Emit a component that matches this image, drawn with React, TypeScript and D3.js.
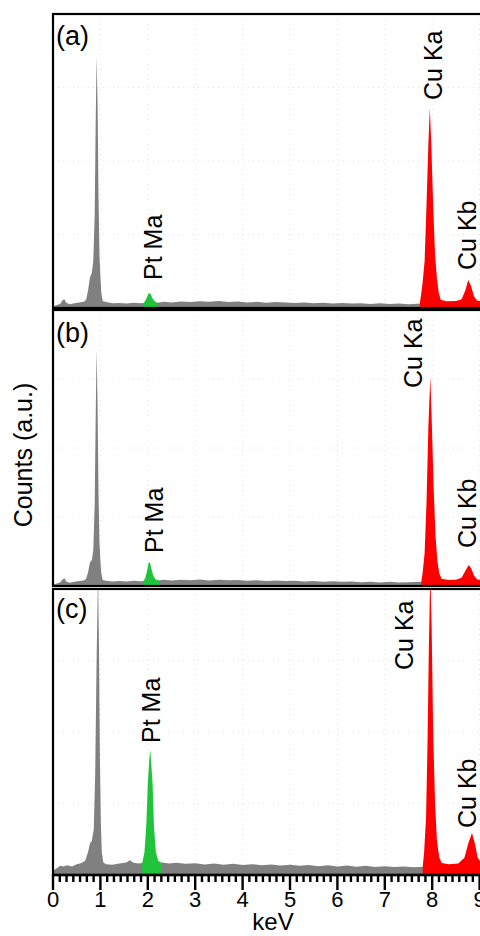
import * as d3 from "d3";

const W = 480;
const H = 936;
const left = 53;
const kevStep = 47.4;

// stacked panels (a), (b), (c)
const panelBoxes = [
  { top: 14, bottom: 308 },
  { top: 310, bottom: 586 },
  { top: 589, bottom: 875 },
];

const panelNames = ["(a)", "(b)", "(c)"];
const tickValues = [0, 1, 2, 3, 4, 5, 6, 7, 8, 9];
const tickLabels = ["0", "1", "2", "3", "4", "5", "6", "7", "8", "9"];

type Pt = [number, number];

// [keV, counts in % of panel height]
const grayA: Pt[] = [
  [0.0, 0.6], [0.08, 1.0], [0.15, 1.4], [0.2, 2.6], [0.24, 3.0], [0.28, 1.8], [0.35, 1.3],
  [0.45, 1.6], [0.55, 1.9], [0.65, 2.1], [0.7, 2.8], [0.74, 6], [0.78, 10.5], [0.82, 12],
  [0.85, 16], [0.88, 32], [0.9, 62], [0.92, 85.7], [0.94, 70], [0.96, 38], [0.98, 18],
  [1.0, 11], [1.02, 5], [1.05, 2.4], [1.12, 2.0], [1.25, 1.6], [1.4, 1.7], [1.55, 1.5],
  [1.7, 1.8], [1.85, 1.6], [2.0, 1.8], [2.2, 1.8], [2.35, 2.1], [2.5, 1.9], [2.7, 2.2],
  [2.9, 2.0], [3.1, 2.3], [3.3, 2.1], [3.5, 2.4], [3.7, 2.0], [3.9, 2.2], [4.1, 1.9],
  [4.3, 2.1], [4.5, 1.8], [4.7, 2.0], [4.9, 1.9], [5.1, 1.7], [5.3, 1.9], [5.5, 1.6],
  [5.7, 1.8], [5.9, 1.5], [6.1, 1.7], [6.3, 1.5], [6.5, 1.6], [6.7, 1.4], [6.9, 1.6],
  [7.1, 1.4], [7.3, 1.5], [7.5, 1.3], [7.76, 1.5],
];
const ptA: Pt[] = [
  [1.92, 1.8], [1.97, 3.2], [2.02, 5.1], [2.06, 4.8], [2.1, 3.2], [2.15, 2.2], [2.2, 1.8],
];
const cuA: Pt[] = [
  [7.74, 1.8], [7.77, 5], [7.8, 9], [7.84, 16], [7.88, 35], [7.92, 56], [7.95, 68],
  [7.98, 56], [8.02, 35], [8.06, 18], [8.1, 10], [8.14, 5], [8.18, 2.8], [8.3, 2.3],
  [8.5, 2.4], [8.62, 3], [8.7, 6], [8.76, 9.5], [8.82, 7.5], [8.88, 4], [8.95, 2.5],
  [9.1, 2.2], [9.4, 2.0],
];

const grayB: Pt[] = [
  [0.0, 0.5], [0.08, 0.9], [0.15, 1.3], [0.2, 2.4], [0.24, 2.8], [0.28, 1.6], [0.35, 1.2],
  [0.45, 1.5], [0.55, 1.8], [0.65, 2.0], [0.7, 2.6], [0.74, 5], [0.78, 8.5], [0.82, 9.4],
  [0.85, 13], [0.88, 30], [0.9, 60], [0.92, 86], [0.94, 66], [0.96, 34], [0.98, 16],
  [1.0, 9], [1.02, 4.5], [1.05, 2.2], [1.12, 1.9], [1.25, 1.6], [1.4, 1.8], [1.55, 1.6],
  [1.7, 1.9], [1.85, 1.7], [2.0, 1.8], [2.2, 2.0], [2.35, 2.3], [2.5, 2.0], [2.7, 2.3],
  [2.9, 2.1], [3.1, 2.4], [3.3, 2.0], [3.5, 2.3], [3.7, 2.1], [3.9, 2.2], [4.1, 1.9],
  [4.3, 2.1], [4.5, 1.8], [4.7, 2.0], [4.9, 1.8], [5.1, 1.9], [5.3, 1.6], [5.5, 1.8],
  [5.7, 1.5], [5.9, 1.7], [6.1, 1.5], [6.3, 1.6], [6.5, 1.4], [6.7, 1.5], [6.9, 1.3],
  [7.1, 1.5], [7.3, 1.3], [7.5, 1.4], [7.78, 1.5],
];
const ptB: Pt[] = [
  [1.9, 1.6], [1.95, 3], [1.99, 6], [2.02, 8.7], [2.05, 8.2], [2.08, 6], [2.12, 3.5],
  [2.17, 2.4], [2.24, 1.9],
];
const cuB: Pt[] = [
  [7.77, 1.6], [7.8, 5], [7.84, 12], [7.88, 30], [7.92, 58], [7.96, 75.7], [7.99, 60],
  [8.03, 36], [8.07, 18], [8.11, 9], [8.15, 4.5], [8.2, 2.6], [8.35, 2.2], [8.5, 2.3],
  [8.62, 3], [8.7, 5.5], [8.77, 7.6], [8.82, 6.5], [8.88, 3.8], [8.95, 2.4], [9.1, 2.1],
  [9.4, 2.0],
];

const grayC: Pt[] = [
  [0.0, 1.5], [0.08, 2.4], [0.15, 3.2], [0.22, 3.0], [0.3, 3.4], [0.4, 3.0], [0.5, 3.8],
  [0.6, 4.2], [0.68, 5], [0.74, 8], [0.78, 11], [0.82, 12], [0.86, 16], [0.89, 35],
  [0.92, 75], [0.95, 106], [0.97, 80], [0.99, 40], [1.01, 18], [1.03, 8], [1.06, 4.5],
  [1.12, 3.8], [1.25, 3.6], [1.4, 4.0], [1.55, 4.4], [1.62, 5.2], [1.7, 4.3], [1.8, 4.0],
  [1.88, 4.2], [2.3, 4.4], [2.45, 4.0], [2.6, 4.3], [2.8, 3.9], [3.0, 4.1], [3.2, 3.7],
  [3.4, 4.0], [3.6, 3.6], [3.8, 3.9], [4.0, 3.5], [4.2, 3.8], [4.4, 3.4], [4.6, 3.7],
  [4.8, 3.3], [5.0, 3.6], [5.2, 3.2], [5.4, 3.5], [5.6, 3.1], [5.8, 3.4], [6.0, 3.0],
  [6.2, 3.3], [6.4, 2.9], [6.6, 3.2], [6.8, 2.8], [7.0, 3.1], [7.2, 2.8], [7.4, 3.0],
  [7.6, 2.7], [7.82, 2.9],
];
const ptC: Pt[] = [
  [1.88, 4], [1.93, 8], [1.97, 18], [2.0, 32], [2.03, 40], [2.05, 43.7], [2.07, 40],
  [2.1, 32], [2.13, 17], [2.17, 8], [2.22, 5], [2.28, 4.3],
];
const cuC: Pt[] = [
  [7.8, 3], [7.83, 8], [7.87, 20], [7.9, 45], [7.93, 80], [7.96, 106], [7.99, 85],
  [8.02, 50], [8.06, 25], [8.1, 12], [8.15, 6], [8.2, 4.2], [8.35, 3.8], [8.55, 4],
  [8.68, 6], [8.76, 11], [8.84, 14.7], [8.9, 11], [8.96, 6], [9.05, 4], [9.2, 3.6],
  [9.4, 3.5],
];

const panelSeries = [
  { gray: grayA, pt: ptA, cu: cuA },
  { gray: grayB, pt: ptB, cu: cuB },
  { gray: grayC, pt: ptC, cu: cuC },
];

const peakNames = ["Pt Ma", "Cu Ka", "Cu Kb"];
// label anchor: baseline x, text start y (rotated)
const labelSpots = [
  [[162, 280], [442, 100], [476, 270]],
  [[163, 553], [422, 388], [476, 548]],
  [[160, 743], [413, 670], [476, 828]],
];

const font = "'Liberation Sans', Arial, sans-serif";

const App = () => {
  const x = d3
    .scaleLinear()
    .domain([0, 10])
    .range([left, left + 10 * kevStep]);

  const minorTicks = d3.range(0, 10 * 7 + 1).map((i) => i / 7);

  return (
    <svg
      width={W}
      height={H}
      style={{ position: "absolute", left: 0, top: 0, background: "#fff" }}
      fontFamily={font}
    >
      <defs>
        {panelBoxes.map((b, i) => (
          <clipPath id={`clip-${i}`} key={i}>
            <rect x={left} y={b.top} width={W} height={b.bottom - b.top} />
          </clipPath>
        ))}
      </defs>

      {panelBoxes.map((b, i) => {
        const y = d3.scaleLinear().domain([0, 100]).range([b.bottom, b.top]);
        const area = d3
          .area<Pt>()
          .x((d) => x(d[0]))
          .y0(y(0))
          .y1((d) => y(d[1]));
        const s = panelSeries[i];
        return (
          <g key={i}>
            <g clipPath={`url(#clip-${i})`}>
              {/* faint grid */}
              {tickValues.slice(1).map((t) => (
                <line
                  key={`v${t}`}
                  x1={x(t)}
                  x2={x(t)}
                  y1={b.top}
                  y2={b.bottom}
                  stroke="#e4e4e4"
                  strokeDasharray="1 4"
                />
              ))}
              {[25, 50, 75].map((g) => (
                <line
                  key={`h${g}`}
                  x1={left}
                  x2={W}
                  y1={y(g)}
                  y2={y(g)}
                  stroke="#e4e4e4"
                  strokeDasharray="1 4"
                />
              ))}
              <path d={area(s.gray) || ""} fill="#808080" />
              <path d={area(s.pt) || ""} fill="#1fc43a" />
              <path d={area(s.cu) || ""} fill="#ff0000" />
            </g>
            <rect
              x={left}
              y={b.top}
              width={W}
              height={b.bottom - b.top}
              fill="none"
              stroke="#000"
              strokeWidth={2.2}
            />
            <text x={56} y={b.top + (i === 0 ? 31 : i === 1 ? 32 : 29)} fontSize={27}>
              {panelNames[i]}
            </text>
            {peakNames.map((n, k) => (
              <text
                key={n}
                transform={`translate(${labelSpots[i][k][0]},${labelSpots[i][k][1]}) rotate(-90)`}
                fontSize={25}
              >
                {n}
              </text>
            ))}
          </g>
        );
      })}

      {/* bottom axis */}
      <line x1={left} x2={W} y1={875} y2={875} stroke="#000" strokeWidth={2.5} />
      {minorTicks.map((t, i) => (
        <line
          key={i}
          x1={x(t)}
          x2={x(t)}
          y1={875}
          y2={i % 7 === 0 ? 890 : 882}
          stroke="#000"
          strokeWidth={2.4}
        />
      ))}
      {tickValues.map((t, i) => (
        <text key={t} x={x(t)} y={907} fontSize={22} textAnchor="middle">
          {tickLabels[i]}
        </text>
      ))}
      <text x={273} y={930} fontSize={24} textAnchor="middle">
        keV
      </text>
      <text
        transform="translate(32,455) rotate(-90)"
        fontSize={25}
        textAnchor="middle"
      >
        Counts (a.u.)
      </text>
    </svg>
  );
};

export default App;
